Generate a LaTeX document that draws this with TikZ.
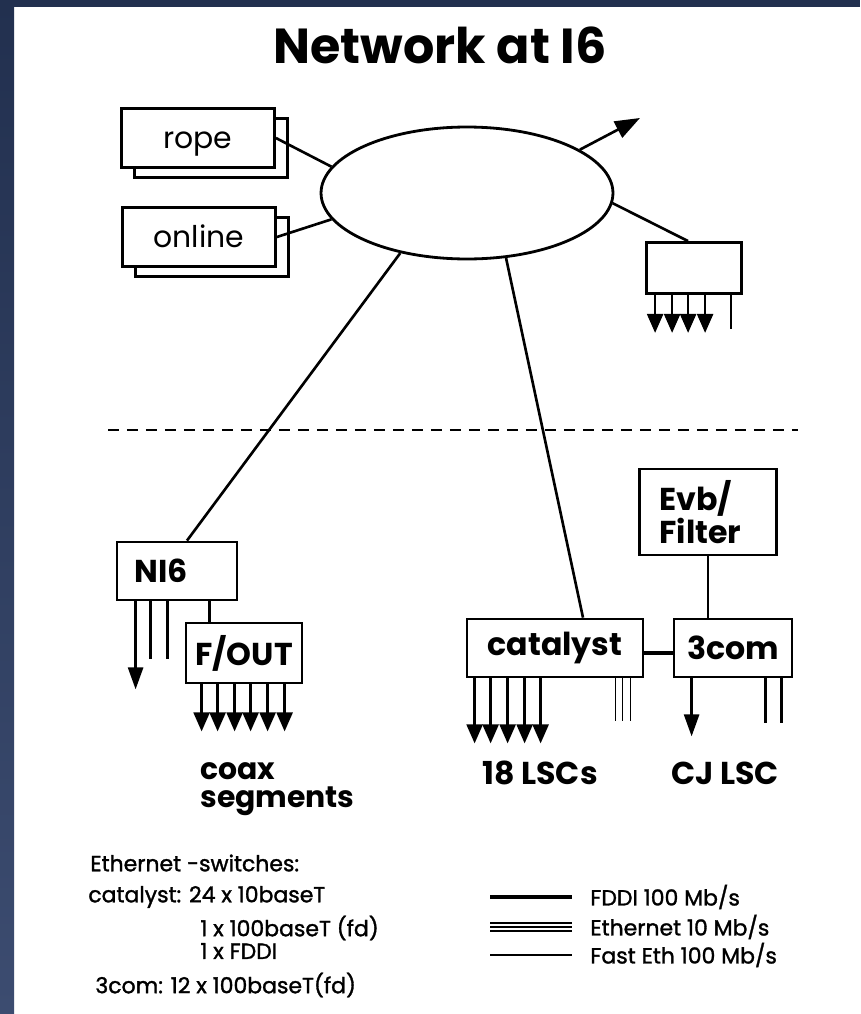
\documentclass[tikz,border=0pt]{standalone}
\usepackage{fontspec}
\setmainfont{Poppins}[Numbers=Proportional]
\newfontfamily\keyfont{Poppins}[Numbers=Proportional, FakeBold=1.4]
\usetikzlibrary{arrows.meta,positioning,calc,shapes.geometric,shadows}

\definecolor{slate}{HTML}{22304F}
\definecolor{slatelow}{HTML}{3C4C70}

\tikzset{
  box/.style={draw, line width=1.6pt, fill=white, inner sep=0pt,
              font=\fontsize{18}{20}\selectfont\bfseries},
  stackbox/.style={draw, line width=1.6pt, fill=white, inner sep=0pt,
              minimum width=3.06cm, minimum height=1.17cm,
              text height=0.42cm, text depth=0pt,
              font=\fontsize{17}{19}\selectfont,
              copy shadow={shadow xshift=0.26cm, shadow yshift=-0.2cm,
                           draw, fill=white, line width=1.6pt}},
  link/.style={line width=1.5pt},
  fan/.style={line width=1.4pt, -{Triangle[length=0.38cm,width=0.32cm]}},
  bigarrow/.style={line width=1.5pt, -{Triangle[length=0.44cm,width=0.3cm]}},
  stub/.style={line width=1.4pt},
  thinstub/.style={line width=0.9pt},
  labeltxt/.style={inner sep=0pt, font=\fontsize{18}{20}\selectfont\bfseries},
  legendtxt/.style={anchor=west, inner sep=0pt, font=\fontsize{12.5}{14}\selectfont\keyfont},
}

\begin{document}
\begin{tikzpicture}[x=0.02cm, y=-0.02cm]
% page and scan border
\fill[white] (0,0) rectangle (860,1014);
\shade[top color=slate, bottom color=slatelow] (0,0) rectangle (14,1014);
\fill[slate] (0,0) rectangle (860,7);
\useasboundingbox (0,0) rectangle (860,1014);

\node[font=\fontsize{28}{32}\selectfont\bfseries] (title) at (440,45) {Network at I6};

% upper half
\node[draw, ellipse, line width=1.6pt, minimum width=5.84cm, minimum height=2.64cm] (lan) at (467,193) {};
\node[stackbox] (rope) at (198,138) {rope};
\node[stackbox] (online) at (199,237) {online};
\node[box, minimum width=1.9cm, minimum height=1.02cm] (hub) at (694,268) {};
\coordinate (ext) at (640,118);

\draw[link] (rope.east) -- (lan.169);
\draw[link] (online.east) -- (lan.191);
\draw[line width=1.5pt, -{Triangle[length=0.5cm,width=0.36cm]}] (lan.21) -- (ext);
\draw[link] (lan.356) -- ([xshift=-0.12cm]hub.north);
\foreach \dx in {10,27,43,60}
  \draw[fan] (hub.south west) ++(\dx,0) -- ++(0,38);
\draw[stub] (hub.south west) ++(86,0) -- ++(0,34);

\draw[line width=1.3pt, dash pattern=on 0.22cm off 0.16cm] (108,430) -- (798,430);

% lower half
\node[box, minimum width=2.4cm, minimum height=1.16cm, text width=1.7cm,
      inner xsep=0.35cm, align=left] (ni6) at (177,571) {NI6};
\node[box, minimum width=2.32cm, minimum height=1.2cm, text width=2.2cm,
      align=center] (fout) at (244,653) {F/OUT};
\node[labeltxt, anchor=west, align=left, font=\fontsize{17}{16}\selectfont\bfseries] (coax) at (200,789) {coax\\segments};

\draw[link] (lan.222) -- ([xshift=0.2cm]ni6.north);
\draw[bigarrow] (ni6.south west) ++(20,0) -- ++(0,88);
\foreach \dx in {35,52}
  \draw[stub] (ni6.south west) ++(\dx,0) -- ++(0,58);
\draw[stub] (ni6.south west) ++(94,0) coordinate (tap) -- (tap |- fout.north);
\foreach \dx in {17,33,50,66,83,100}
  \draw[fan] (fout.south west) ++(\dx,0) -- ++(0,47);

\node[box, minimum width=3.52cm, minimum height=1.16cm] (catalyst) at (555,648) {catalyst};
\node[box, minimum width=2.36cm, minimum height=1.16cm] (threecom) at (733,648) {3com};
\node[box, minimum width=2.74cm, minimum height=1.72cm, text width=1.94cm,
      inner xsep=0.4cm, align=left, font=\fontsize{18}{19}\selectfont\bfseries] (evb) at (708,512) {Evb/\\Filter};

\draw[link] (lan.301) -- ([xshift=0.56cm]catalyst.north);
\draw[link] (evb.south) -- (evb.south |- threecom.north);
\draw[line width=2.2pt] ([yshift=-0.1cm]catalyst.east) -- ([yshift=-0.1cm]threecom.west);
\foreach \dx in {9,25,42,59,75}
  \draw[fan] (catalyst.south west) ++(\dx,0) -- ++(0,65);
\foreach \dx in {150,157,165}
  \draw[thinstub] (catalyst.south west) ++(\dx,0) -- ++(0,43);
\draw[bigarrow] (threecom.south west) ++(19,0) -- ++(0,58);
\foreach \dx in {93,109}
  \draw[stub, line width=2pt] (threecom.south west) ++(\dx,0) -- ++(0,45);

\node[labeltxt] (lscs) at (540,773) {18 LSCs};
\node[labeltxt] (cjlsc) at (725,773) {CJ LSC};

% legend
\node[legendtxt] (swhead) at (90,863) {Ethernet -switches:};
\node[legendtxt] (catports) at (88,897) {catalyst: 24 x 10baseT};
\node[legendtxt] (catfast) at (200,928) {1 x 100baseT (fd)};
\node[legendtxt] (catfddi) at (200,951) {1 x FDDI};
\node[legendtxt] (comports) at (95,985) {3com: 12 x 100baseT(fd)};

\node[legendtxt] (keyfddi) at (590,897) {FDDI 100 Mb/s};
\node[legendtxt] (keyeth) at (590,927) {Ethernet 10 Mb/s};
\node[legendtxt] (keyfast) at (590,955) {Fast Eth 100 Mb/s};
\draw[line width=1.8pt] (keyfddi.west) ++(-100,0) -- ++(82,0);
\foreach \dy in {-4,0,4}
  \draw[line width=1pt] (keyeth.west) ++(-100,\dy) -- ++(82,0);
\draw[line width=1.5pt] (keyfast.west) ++(-100,0) -- ++(82,0);
\end{tikzpicture}
\end{document}
